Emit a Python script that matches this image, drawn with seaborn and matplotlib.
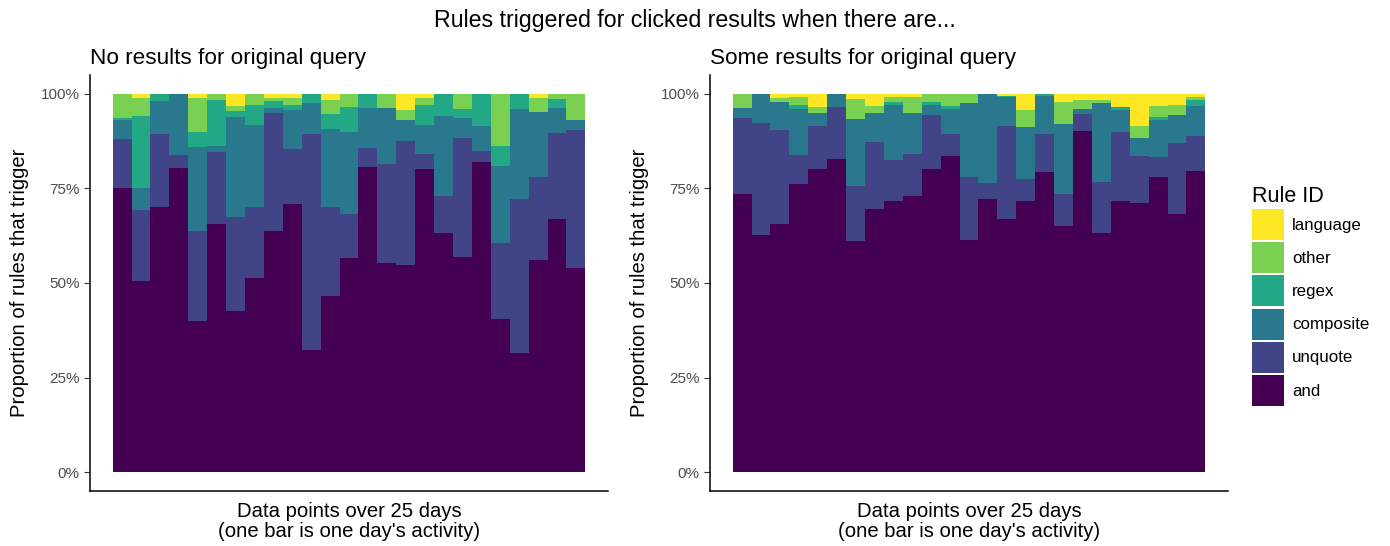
import matplotlib
matplotlib.use("Agg")
import matplotlib.pyplot as plt
from matplotlib.patches import Patch
from matplotlib.ticker import PercentFormatter
import pandas as pd
import seaborn as sns

RULES = ["language", "other", "regex", "composite", "unquote", "and"]
COLORS = ["#FDE725", "#7AD151", "#22A884", "#2A788E", "#414487", "#440154"]
DAYS = list(range(1, 26))

# percent share per day, "no results for original query"
NONE_AND = [75.0, 50.5, 70.1, 80.4, 40.0, 65.6, 42.6, 51.3, 63.8, 70.9, 32.3, 46.6, 56.6,
            80.7, 55.3, 54.8, 80.2, 63.2, 56.9, 82.0, 40.5, 31.5, 56.1, 66.9, 54.0]
NONE_UNQUOTE = [13.1, 18.8, 19.3, 3.5, 23.8, 19.0, 24.9, 18.8, 31.2, 14.5, 57.1, 23.5, 11.7,
                5.0, 26.2, 32.8, 3.9, 9.8, 31.5, 2.9, 20.1, 40.7, 21.9, 22.8, 36.5]
NONE_COMPOSITE = [5.0, 5.8, 8.7, 16.1, 22.2, 1.6, 26.4, 21.7, 1.3, 10.4, 8.2, 20.6, 21.7,
                  10.6, 14.8, 5.5, 7.7, 21.2, 5.3, 6.6, 20.4, 23.8, 17.2, 6.6, 2.6]
NONE_REGEX = [0.4, 19.1, 1.9, 0.0, 4.0, 12.2, 1.6, 5.3, 1.7, 1.3, 2.4, 4.0, 6.6,
              3.7, 0.0, 0.0, 5.3, 5.8, 2.3, 8.5, 5.2, 4.0, 0.0, 2.4, 0.0]
NONE_OTHER = [6.5, 4.8, 0.0, 0.0, 9.0, 1.6, 1.3, 2.9, 1.0, 1.9, 0.0, 3.7, 3.4,
              0.0, 3.7, 2.7, 2.0, 0.0, 4.0, 0.0, 13.8, 0.0, 3.8, 1.3, 6.9]
NONE_LANGUAGE = [0.0, 1.0, 0.0, 0.0, 1.0, 0.0, 3.2, 0.0, 1.0, 1.0, 0.0, 1.6, 0.0,
                 0.0, 0.0, 4.2, 1.0, 0.0, 0.0, 0.0, 0.0, 0.0, 1.0, 0.0, 0.0]

# percent share per day, "some results for original query"
SOME_AND = [73.5, 62.7, 65.1, 76.2, 79.6, 82.8, 60.6, 69.0, 71.2, 76.2, 80.2, 83.6, 61.4,
            72.2, 66.4, 71.7, 83.3, 65.6, 89.4, 62.4, 72.2, 70.6, 78.6, 70.4, 80.2]
SOME_UNQUOTE = [20.0, 29.6, 24.6, 7.7, 11.1, 13.8, 14.5, 17.5, 10.8, 11.4, 14.2, 5.8, 16.6,
                4.3, 24.6, 5.8, 10.6, 8.7, 4.5, 13.5, 18.5, 12.2, 5.3, 19.3, 9.5]
SOME_COMPOSITE = [2.7, 7.7, 7.4, 12.1, 3.5, 3.4, 17.5, 7.7, 14.5, 11.4, 2.6, 6.6, 19.6,
                  23.5, 7.4, 13.8, 10.6, 18.7, 1.3, 20.5, 5.9, 4.8, 10.0, 7.6, 7.9]
SOME_REGEX = [0.0, 0.0, 0.0, 1.0, 0.0, 0.0, 0.0, 0.0, 0.8, 0.0, 0.8, 0.8, 0.0,
              0.0, 0.4, 0.0, 0.6, 0.0, 0.0, 0.0, 0.8, 0.0, 0.8, 0.0, 1.6]
SOME_OTHER = [3.8, 0.0, 1.0, 2.1, 1.6, 0.0, 5.3, 1.8, 1.3, 4.4, 2.2, 3.2, 2.4,
              0.0, 0.0, 4.5, 0.0, 5.8, 2.4, 0.9, 0.0, 3.1, 2.9, 2.9, 0.8]
SOME_LANGUAGE = [0.0, 0.0, 1.1, 0.9, 3.4, 0.0, 1.3, 3.2, 0.8, 0.8, 0.0, 0.0, 0.0,
                 0.0, 0.5, 4.2, 0.0, 2.1, 1.6, 1.6, 3.4, 8.5, 3.2, 2.9, 0.8]


def long_frame(columns):
    frames = []
    for rule, values in zip(RULES, columns):
        frames.append(pd.DataFrame({"day": DAYS, "rule": rule, "share": values}))
    return pd.concat(frames, ignore_index=True)


none_df = long_frame([NONE_LANGUAGE, NONE_OTHER, NONE_REGEX, NONE_COMPOSITE, NONE_UNQUOTE, NONE_AND])
some_df = long_frame([SOME_LANGUAGE, SOME_OTHER, SOME_REGEX, SOME_COMPOSITE, SOME_UNQUOTE, SOME_AND])

sns.set_theme(style="ticks")
plt.rcParams["font.family"] = ["Liberation Sans", "DejaVu Sans"]
plt.rcParams["text.color"] = "black"
plt.rcParams["axes.labelcolor"] = "black"

fig = plt.figure(figsize=(13.9, 5.46), dpi=100)
W, H = 1390, 546
ax_l = fig.add_axes([90 / W, 55 / H, 518 / W, 416 / H])
ax_r = fig.add_axes([710 / W, 55 / H, 518 / W, 416 / H])

palette = dict(zip(RULES, COLORS))
for ax, data, title in [(ax_l, none_df, "No results for original query"),
                        (ax_r, some_df, "Some results for original query")]:
    sns.histplot(data=data, x="day", hue="rule", weights="share", hue_order=RULES,
                 palette=palette, multiple="fill", discrete=True, shrink=1,
                 alpha=1, linewidth=0, legend=False, ax=ax)
    ax.set_xlim(0.5 - 1.2, 25.5 + 1.2)
    ax.set_ylim(-0.05, 1.05)
    ax.set_yticks([0, 0.25, 0.5, 0.75, 1.0])
    ax.yaxis.set_major_formatter(PercentFormatter(1.0, decimals=0))
    ax.set_xticks([])
    ax.tick_params(axis="y", labelsize=11, labelcolor="#4D4D4D", color="#333333", length=4, width=0.8)
    for side in ["top", "right"]:
        ax.spines[side].set_visible(False)
    for side in ["left", "bottom"]:
        ax.spines[side].set_linewidth(1.1)
        ax.spines[side].set_color("black")
    ax.set_ylabel("Proportion of rules that trigger", fontsize=14.6, labelpad=8)
    ax.set_xlabel("Data points over 25 days\n(one bar is one day's activity)", fontsize=14.6,
                  labelpad=8, linespacing=1.05)
    ax.set_title(title, loc="left", fontsize=16.2, pad=8)

fig.suptitle("Rules triggered for clicked results when there are...", fontsize=16.7,
             y=1 - 20 / H, va="center")

handles = [Patch(facecolor=c, edgecolor="none") for c in COLORS]
leg = fig.legend(handles, RULES, title="Rule ID", loc="center left",
                 bbox_to_anchor=(1237 / W, 1 - 296 / H), frameon=False, fontsize=12.2,
                 title_fontsize=15.5, handlelength=1.9, handleheight=2.45,
                 labelspacing=0.12, handletextpad=0.45)
leg._legend_box.align = "left"

fig.savefig("out.png", dpi=100)
